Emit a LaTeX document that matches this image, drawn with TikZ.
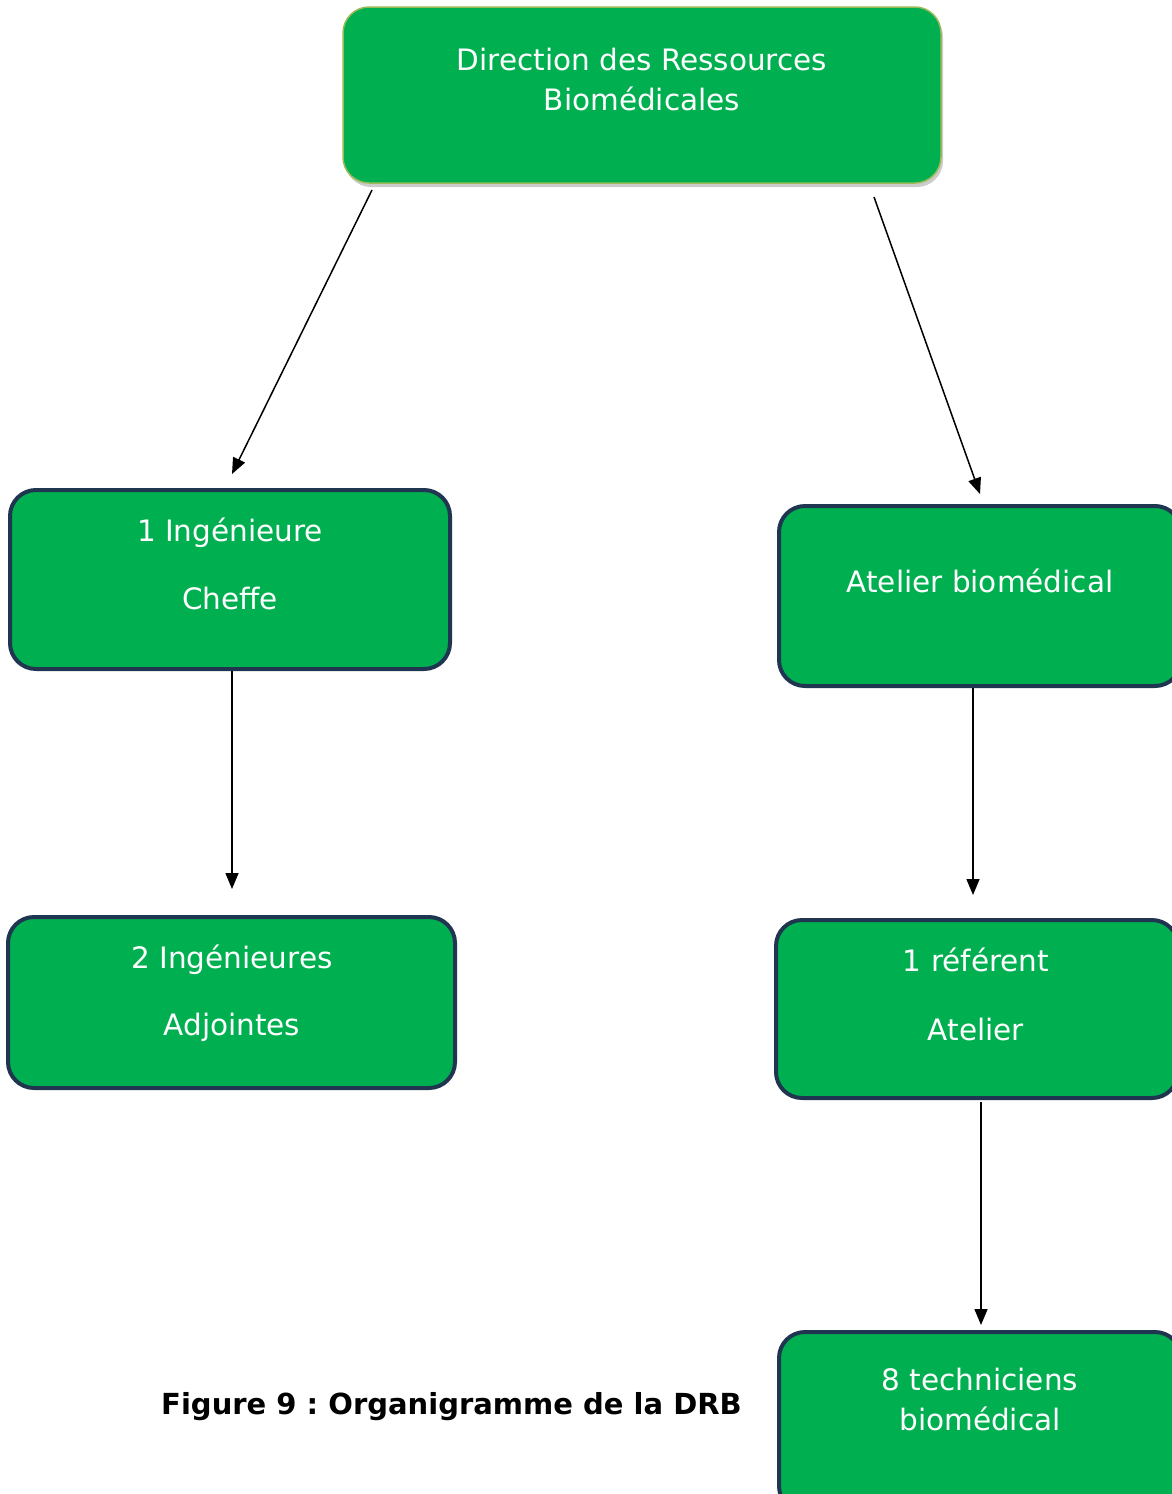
\documentclass[tikz,border=0pt]{standalone}
\usepackage{fontspec}
\setmainfont{DejaVu Sans}
\usetikzlibrary{arrows.meta,shadows}
\definecolor{boxgreen}{HTML}{00B050}
\definecolor{navy}{HTML}{1F3550}
\definecolor{olive}{HTML}{9BBB59}
\frenchspacing
\begin{document}
\begin{tikzpicture}[x=1pt,y=-1pt,
  orgbox/.style={draw=navy,line width=4pt,fill=boxgreen,rounded corners=26pt,inner sep=0pt},
  topbox/.style={draw=olive,line width=1.5pt,fill=boxgreen,rounded corners=26pt,inner sep=0pt,
    drop shadow={shadow xshift=2pt,shadow yshift=-4pt,opacity=0.4}},
  lbl/.style={text=white,font=\fontsize{29.5}{40}\selectfont,anchor=base,inner sep=0pt},
  captxt/.style={text=black,font=\fontsize{29}{34}\selectfont\bfseries\frenchspacing,anchor=base,inner sep=0pt},
  conn/.style={line width=1.5pt,-{Triangle[length=16pt,width=13pt]}}]
\useasboundingbox (0,0) rectangle (1172,1494);
\clip (0,0) rectangle (1172,1494);
% boxes
\node[topbox,minimum width=598pt,minimum height=176pt] (top) at (642,95) {};
\node[orgbox,minimum width=440pt,minimum height=179pt] (ing) at (230,579.5) {};
\node[orgbox,minimum width=447pt,minimum height=171pt] (adj) at (231.5,1002.5) {};
\node[orgbox,minimum width=402pt,minimum height=180pt] (ate) at (980,596) {};
\node[orgbox,minimum width=402pt,minimum height=178pt] (ref) at (977,1009) {};
\node[orgbox,minimum width=402pt,minimum height=180pt] (tec) at (980,1422) {};
% texts
\node[lbl] (t1) at (642,70) {Direction des Ressources};
\node[lbl] (t2) at (642,110) {Biomédicales};
\node[lbl] (t3) at (230,541) {1 Ingénieure};
\node[lbl] (t4) at (230,609) {Cheffe};
\node[lbl] (t5) at (232,968) {2 Ingénieures};
\node[lbl] (t6) at (232,1035) {Adjointes};
\node[lbl] (t7) at (980,592) {Atelier biomédical};
\node[lbl] (t8) at (976,971) {1 référent};
\node[lbl] (t9) at (976,1040) {Atelier};
\node[lbl] (t10) at (980,1390) {8 techniciens};
\node[lbl] (t11) at (980,1430) {biomédical};
\node[captxt] (caption) at (451.5,1414) {Figure 9 : Organigramme de la DRB};
% connector end points
\coordinate (a1s) at (372,190);
\coordinate (a1e) at (232,474);
\coordinate (a2s) at (874,197);
\coordinate (a2e) at (980,494);
\coordinate (a3s) at (232,671);
\coordinate (a3e) at (232,889);
\coordinate (a4s) at (973,688);
\coordinate (a4e) at (973,895);
\coordinate (a5s) at (981,1102);
\coordinate (a5e) at (981,1325);
\draw[conn] (a1s) -- (a1e);
\draw[conn] (a2s) -- (a2e);
\draw[conn] (a3s) -- (a3e);
\draw[conn] (a4s) -- (a4e);
\draw[conn] (a5s) -- (a5e);
\end{tikzpicture}
\end{document}
